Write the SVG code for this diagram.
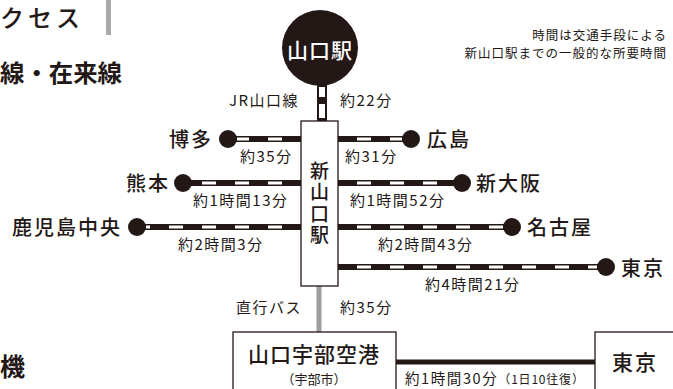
<svg xmlns="http://www.w3.org/2000/svg" width="673" height="389" viewBox="0 0 673 389">
<style>
text{font-family:"Noto Sans CJK JP","Noto Sans",sans-serif;fill:#231815}
.st{font-size:20px;font-weight:500;letter-spacing:2px}
.tm{font-size:15px;font-weight:400;letter-spacing:1.5px}
.rb{stroke:#231815;stroke-width:6;fill:none}
.rw{stroke:#fff;stroke-width:3;fill:none;stroke-dasharray:14 19}
.dot{fill:#231815}
.box{fill:#fff;stroke:#231815;stroke-width:1.3}
.note{font-size:12.5px;letter-spacing:1px}
</style>
<rect width="673" height="389" fill="#fff"/>
<g id="headings">
<text x="0" y="27" style="font-size:24px;font-weight:500;letter-spacing:4px">クセス</text>
<rect x="106" y="0" width="5" height="35" fill="#a9a9a9"/>
<text x="0" y="82" textLength="122" lengthAdjust="spacingAndGlyphs" style="font-size:24px;font-weight:700">線・在来線</text>
<text x="0" y="376" style="font-size:25px;font-weight:700">機</text>
<text class="note" x="667" y="40" text-anchor="end">時間は交通手段による</text>
<text class="note" x="667" y="58" text-anchor="end">新山口駅までの一般的な所要時間</text>
</g>
<g id="connectors">
<rect x="317" y="84" width="10" height="37" fill="#231815"/>
<rect x="319" y="87" width="6" height="10" fill="#fff"/>
<rect x="319" y="104" width="6" height="14" fill="#fff"/>
<line class="rb" x1="228" y1="139" x2="301" y2="139"/>
<line class="rw" x1="282" y1="139" x2="237" y2="139"/>
<line class="rb" x1="183" y1="183" x2="301" y2="183"/>
<line class="rw" x1="282" y1="183" x2="192" y2="183"/>
<line class="rb" x1="137" y1="227" x2="301" y2="227"/>
<line class="rw" x1="282" y1="227" x2="146" y2="227"/>
<line class="rb" x1="338" y1="139" x2="411" y2="139"/>
<line class="rw" x1="357" y1="139" x2="402" y2="139"/>
<line class="rb" x1="338" y1="183" x2="462" y2="183"/>
<line class="rw" x1="357" y1="183" x2="453" y2="183"/>
<line class="rb" x1="338" y1="227" x2="512" y2="227"/>
<line class="rw" x1="357" y1="227" x2="503" y2="227"/>
<line class="rb" x1="338" y1="267" x2="606" y2="267"/>
<line class="rw" x1="357" y1="267" x2="597" y2="267"/>
<line x1="319" y1="286" x2="319" y2="332" stroke="#9e9e9e" stroke-width="5"/>
<line x1="396" y1="362" x2="595" y2="362" stroke="#231815" stroke-width="5"/>
<text class="tm" x="229" y="106">JR山口線</text>
<text class="tm" x="340" y="106">約22分</text>
<text class="tm" x="240" y="162">約35分</text>
<text class="tm" x="345" y="162">約31分</text>
<text class="tm" x="193" y="206">約1時間13分</text>
<text class="tm" x="350" y="206">約1時間52分</text>
<text class="tm" x="178" y="250">約2時間3分</text>
<text class="tm" x="378" y="250">約2時間43分</text>
<text class="tm" x="425" y="290">約4時間21分</text>
<text class="tm" x="236" y="313">直行バス</text>
<text class="tm" x="340" y="313">約35分</text>
<text x="405" y="384" style="font-size:14.5px;letter-spacing:1.6px">約1時間30分<tspan style="font-size:12px;letter-spacing:0.8px">（1日10往復）</tspan></text>
</g>
<g id="yamaguchi">
<circle cx="320" cy="48" r="38" class="dot"/>
<text x="320" y="58" text-anchor="middle" style="font-size:21px;font-weight:500;fill:#fff;letter-spacing:1px">山口駅</text>
</g>
<g id="shinyamaguchi">
<rect x="301" y="121" width="37" height="165" class="box"/>
<text x="319.5" y="161" writing-mode="vertical-rl" style="font-size:19px;font-weight:500;letter-spacing:2.5px">新山口駅</text>
</g>
<g id="hakata"><circle cx="228" cy="139" r="9" class="dot"/><text class="st" x="213" y="147" text-anchor="end">博多</text></g>
<g id="kumamoto"><circle cx="183" cy="183" r="9" class="dot"/><text class="st" x="170" y="191" text-anchor="end">熊本</text></g>
<g id="kagoshima"><circle cx="137" cy="227" r="9" class="dot"/><text class="st" x="122" y="235" text-anchor="end">鹿児島中央</text></g>
<g id="hiroshima"><circle cx="411" cy="139" r="9" class="dot"/><text class="st" x="427" y="147">広島</text></g>
<g id="shinosaka"><circle cx="462" cy="183" r="9" class="dot"/><text class="st" x="476" y="191">新大阪</text></g>
<g id="nagoya"><circle cx="512" cy="227" r="9" class="dot"/><text class="st" x="527" y="235">名古屋</text></g>
<g id="tokyo-rail"><circle cx="606" cy="267" r="9" class="dot"/><text class="st" x="621" y="276">東京</text></g>
<g id="ube-airport">
<rect x="233" y="332" width="163" height="70" class="box"/>
<text x="314" y="362" text-anchor="middle" style="font-size:21px;font-weight:500;letter-spacing:1px">山口宇部空港</text>
<text x="314" y="384" text-anchor="middle" style="font-size:13px">（宇部市）</text>
</g>
<g id="tokyo-air">
<rect x="595" y="332" width="90" height="70" class="box"/>
<text x="612" y="370" style="font-size:21px;font-weight:500;letter-spacing:2px">東京</text>
</g>
</svg>
